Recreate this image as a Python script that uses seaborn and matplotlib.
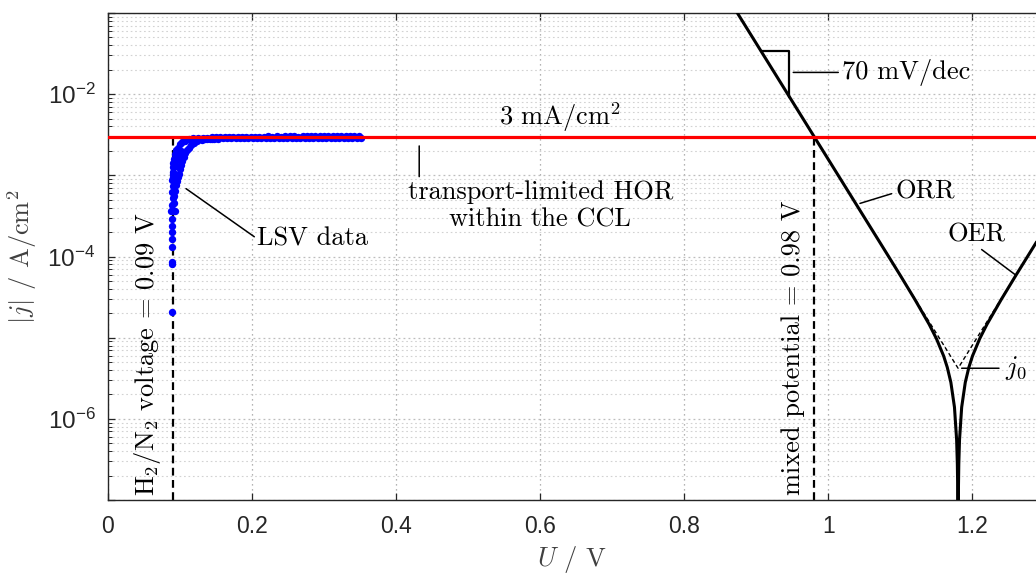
import matplotlib
matplotlib.use("Agg")
import matplotlib.pyplot as plt
import numpy as np
import pandas as pd
import seaborn as sns
from matplotlib.ticker import FixedLocator, NullFormatter, FixedFormatter

# ---------------- data ----------------
# LSV measurement (U in V, |j| in A/cm^2)
lsv_rise_U = [0.0885, 0.0885, 0.0890, 0.0885, 0.0890, 0.0890, 0.0895, 0.0890, 0.0875, 0.0905,
              0.0925, 0.0895, 0.0900, 0.0895, 0.0900, 0.0895, 0.0900, 0.0905, 0.0900, 0.0905,
              0.0910, 0.0920, 0.0930, 0.0945, 0.0960, 0.0975, 0.0990, 0.1000, 0.1015, 0.1030,
              0.1050, 0.1070, 0.1090, 0.1120, 0.1150, 0.1190, 0.1240, 0.1300, 0.1370, 0.1450,
              0.0905, 0.0915, 0.0930, 0.0950, 0.0970, 0.1000, 0.1030, 0.1070, 0.1120, 0.1180,
              0.1250, 0.1320, 0.0920, 0.0940, 0.0960, 0.0985, 0.1010]
lsv_rise_j = [2.05e-5, 8.0e-5, 8.6e-5, 1.32e-4, 1.65e-4, 2.0e-4, 2.4e-4, 2.9e-4, 3.6e-4, 3.6e-4,
              3.6e-4, 4.3e-4, 5.2e-4, 6.2e-4, 7.4e-4, 8.8e-4, 1.05e-3, 1.25e-3, 9.5e-4, 1.1e-3,
              4.5e-4, 5.5e-4, 6.5e-4, 7.5e-4, 8.5e-4, 9.5e-4, 1.05e-3, 1.2e-3, 1.35e-3, 1.5e-3,
              1.7e-3, 1.9e-3, 2.05e-3, 2.2e-3, 2.35e-3, 2.5e-3, 2.62e-3, 2.72e-3, 2.78e-3, 2.82e-3,
              1.4e-3, 1.6e-3, 1.85e-3, 2.05e-3, 2.2e-3, 2.4e-3, 2.55e-3, 2.68e-3, 2.78e-3, 2.85e-3,
              2.9e-3, 2.92e-3, 1.0e-3, 1.3e-3, 1.55e-3, 1.8e-3, 2.0e-3]
lsv_plateau_U = [0.135, 0.141, 0.147, 0.153, 0.159, 0.165, 0.171, 0.177, 0.183, 0.189,
                 0.195, 0.201, 0.207, 0.213, 0.219, 0.225, 0.231, 0.237, 0.243, 0.249,
                 0.255, 0.261, 0.267, 0.273, 0.279, 0.285, 0.291, 0.297, 0.303, 0.309,
                 0.315, 0.321, 0.327, 0.333, 0.339, 0.345, 0.351,
                 0.138, 0.144, 0.150, 0.156, 0.162, 0.168, 0.174, 0.180, 0.186, 0.192,
                 0.198, 0.204, 0.210, 0.216, 0.222, 0.228, 0.234, 0.240, 0.246, 0.252,
                 0.258, 0.264, 0.270, 0.276, 0.282, 0.288, 0.294, 0.300, 0.306, 0.312,
                 0.318, 0.324, 0.330, 0.336, 0.342, 0.348]
lsv_plateau_j = [2.80e-3, 2.82e-3, 2.83e-3, 2.84e-3, 2.85e-3, 2.86e-3, 2.86e-3, 2.87e-3, 2.88e-3, 2.87e-3,
                 2.88e-3, 2.89e-3, 2.88e-3, 2.89e-3, 2.90e-3, 2.89e-3, 2.90e-3, 2.89e-3, 2.90e-3, 2.91e-3,
                 2.90e-3, 2.89e-3, 2.91e-3, 2.90e-3, 2.91e-3, 2.90e-3, 2.91e-3, 2.92e-3, 2.90e-3, 2.91e-3,
                 2.92e-3, 2.91e-3, 2.90e-3, 2.92e-3, 2.91e-3, 2.92e-3, 2.91e-3,
                 2.92e-3, 2.94e-3, 2.95e-3, 2.96e-3, 2.97e-3, 2.97e-3, 2.98e-3, 2.98e-3, 2.99e-3, 2.98e-3,
                 2.99e-3, 3.00e-3, 2.99e-3, 3.00e-3, 3.01e-3, 3.00e-3, 3.01e-3, 3.00e-3, 3.01e-3, 3.02e-3,
                 3.01e-3, 3.00e-3, 3.02e-3, 3.01e-3, 3.02e-3, 3.01e-3, 3.02e-3, 3.03e-3, 3.01e-3, 3.02e-3,
                 3.03e-3, 3.02e-3, 3.01e-3, 3.03e-3, 3.02e-3, 3.03e-3]

# net ORR/OER kinetic current (solid black)
kin_U = [0.87, 0.98, 1.05, 1.08, 1.10, 1.12, 1.14, 1.15, 1.16, 1.165, 1.17, 1.175, 1.178, 1.179,
         1.1795, 1.18, 1.1805, 1.181, 1.182, 1.185, 1.19, 1.195, 1.20, 1.21, 1.22, 1.24, 1.26,
         1.28, 1.289]
kin_j = [1.127e-1, 3.02e-3, 3.02e-4, 1.125e-4, 5.81e-5, 2.96e-5, 1.453e-5, 9.70e-6, 5.94e-6,
         4.31e-6, 2.81e-6, 1.39e-6, 5.5e-7, 2.76e-7, 1.38e-7, 1e-9, 1.38e-7, 2.76e-7, 5.5e-7,
         1.39e-6, 2.81e-6, 4.31e-6, 5.94e-6, 9.70e-6, 1.453e-5, 2.96e-5, 5.81e-5, 1.125e-4, 1.514e-4]

# Tafel asymptotes (dashed V)
tafel_U = [1.05, 1.18, 1.289]
tafel_j = [3.02e-4, 4.2e-6, 1.515e-4]

# 70 mV/dec slope triangle
tri_U = [0.906, 0.9457, 0.9457]
tri_j = [3.43e-2, 3.43e-2, 9.3e-3]

limit_j = 3e-3          # 3 mA/cm^2
h2n2_U = 0.09
mixed_U = 0.98
j0_val = 4.2e-6

x_ticks = [0, 0.2, 0.4, 0.6, 0.8, 1.0, 1.2]
x_ticklabels = ["0", "0.2", "0.4", "0.6", "0.8", "1", "1.2"]
y_decades = [1e-7, 1e-6, 1e-5, 1e-4, 1e-3, 1e-2, 1e-1]
y_ticklabels = ["", r"$\mathdefault{10^{-6}}$", "", r"$\mathdefault{10^{-4}}$", "",
                r"$\mathdefault{10^{-2}}$", ""]

# ---------------- style ----------------
sns.set_theme(style="white")
plt.rcParams["font.family"] = ["Liberation Sans", "DejaVu Sans"]
plt.rcParams["mathtext.fontset"] = "cm"
plt.rcParams["axes.unicode_minus"] = True

fig = plt.figure(figsize=(10.36, 5.74), dpi=100)
ax = fig.add_axes([108 / 1036, 74 / 574, 928 / 1036, 487 / 574])

serif = dict(family="cmr10", fontsize=19, color="black")

lsv_df = pd.DataFrame({"U": lsv_rise_U + lsv_plateau_U, "j": lsv_rise_j + lsv_plateau_j})
kin_df = pd.DataFrame({"U": kin_U, "j": kin_j})
taf_df = pd.DataFrame({"U": tafel_U, "j": tafel_j})
tri_df = pd.DataFrame({"U": tri_U, "j": tri_j})

ax.set_yscale("log")

# vertical dashed marker lines
ax.vlines([h2n2_U, mixed_U], 1e-7, limit_j, colors="black", linestyles=(0, (3.5, 2)),
          linewidth=1.6, zorder=2)

sns.scatterplot(data=lsv_df, x="U", y="j", ax=ax, color=(0, 0, 1), s=28,
                linewidth=0, zorder=3, legend=False)

sns.lineplot(data=taf_df, x="U", y="j", ax=ax, color="black", linewidth=1.0,
             linestyle=(0, (3, 2)), estimator=None, sort=False, zorder=4, legend=False)
sns.lineplot(data=kin_df, x="U", y="j", ax=ax, color="black", linewidth=2.2,
             estimator=None, sort=False, zorder=5, legend=False)
sns.lineplot(data=tri_df, x="U", y="j", ax=ax, color="black", linewidth=1.6,
             estimator=None, sort=False, zorder=5, legend=False)

ax.axhline(limit_j, color=(1, 0, 0), linewidth=2.3, zorder=6)

# ---------------- axes ----------------
ax.set_xlim(0, 928 / 720.4)
ax.set_ylim(1e-7, 1e-1)
ax.xaxis.set_major_locator(FixedLocator(x_ticks))
ax.xaxis.set_major_formatter(FixedFormatter(x_ticklabels))
ax.yaxis.set_major_locator(FixedLocator(y_decades))
ax.yaxis.set_major_formatter(FixedFormatter(y_ticklabels))
minor = [m * d for d in y_decades[:-1] for m in range(2, 10)]
ax.yaxis.set_minor_locator(FixedLocator(minor))
ax.yaxis.set_minor_formatter(NullFormatter())
ax.xaxis.set_minor_locator(FixedLocator([]))

ax.tick_params(axis="both", which="both", direction="in", colors="#262626",
               top=True, right=False, left=True, bottom=True)
ax.tick_params(axis="x", which="major", length=5, width=0.9, labelsize=16.5, pad=11)
ax.tick_params(axis="y", which="major", length=5, width=0.9, labelsize=17.5, pad=9)
ax.tick_params(axis="y", which="minor", length=3, width=0.7)

ax.grid(True, which="major", axis="x", color="#9a9a9a", linestyle=(0, (1, 3)), linewidth=0.9)
ax.grid(True, which="major", axis="y", color="#bdbdbd", linestyle=(0, (1.5, 2.5)), linewidth=0.9)
ax.grid(True, which="minor", axis="y", color="#d2d2d2", linestyle=(0, (1.5, 2.5)), linewidth=0.8)
ax.set_axisbelow(True)

for side in ["left", "bottom", "top"]:
    ax.spines[side].set_visible(True)
    ax.spines[side].set_color("#262626")
    ax.spines[side].set_linewidth(1.0)
ax.spines["right"].set_visible(False)

ax.set_xlabel(r"$U$ / V", fontsize=19, color="#404040", family="cmr10", labelpad=4)
ax.set_ylabel(r"$|j|$ / A/cm$^2$", fontsize=19, color="#404040", family="cmr10", labelpad=6)

# ---------------- annotations ----------------
def leader(p1, p2, lw=1.1):
    ax.annotate("", xy=p1, xytext=p2,
                arrowprops=dict(arrowstyle="-", color="black", lw=lw, shrinkA=0, shrinkB=0))

ax.text(0.6275, 10 ** -2.284, r"3 mA/cm$^2$", ha="center", va="center", **serif)

leader((0.432, 10 ** -2.638), (0.432, 10 ** -3.016))
ax.text(0.60, 10 ** -3.378, "transport-limited HOR\nwithin the CCL", ha="center", va="center",
        linespacing=1.2, **serif)

leader((0.1083, 10 ** -3.164), (0.2031, 10 ** -3.757))
ax.text(0.207, 10 ** -3.782, "LSV data", ha="left", va="center", **serif)

ax.text(0.0555, 1.12e-7, r"$\mathrm{H}_2$/$\mathrm{N}_2$ voltage = 0.09 V", rotation=90,
        ha="center", va="bottom", **serif)
ax.text(0.951, 1.15e-7, "mixed potential = 0.98 V", rotation=90,
        ha="center", va="bottom", **serif)

leader((0.9512, 10 ** -1.732), (1.0137, 10 ** -1.732))
ax.text(1.019, 10 ** -1.732, "70 mV/dec", ha="left", va="center", **serif)

leader((1.0438, 10 ** -3.346), (1.0878, 10 ** -3.226))
ax.text(1.0925, 10 ** -3.206, "ORR", ha="left", va="center", **serif)

leader((1.2127, 10 ** -3.914), (1.259, 10 ** -4.222))
ax.text(1.2059, 10 ** -3.728, "OER", ha="center", va="center", **serif)

leader((1.185, j0_val), (1.2368, j0_val))
ax.text(1.245, j0_val, r"$j_0$", ha="left", va="center", fontsize=19, color="black")

fig.savefig("out.png", dpi=100)
